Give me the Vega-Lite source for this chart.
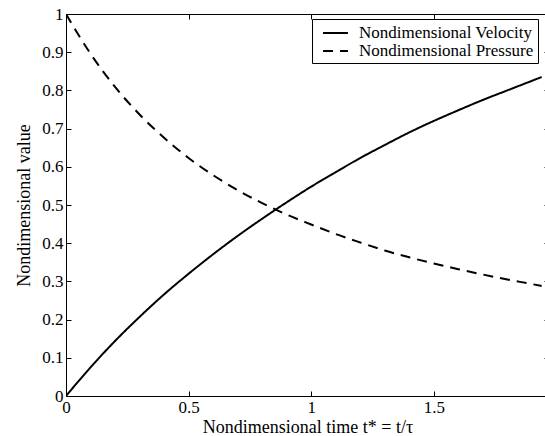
{
  "$schema": "https://vega.github.io/schema/vega-lite/v6.json",
  "width": 483,
  "height": 382,
  "autosize": {"type": "none"},
  "padding": {"left": 66, "top": 14, "right": 0, "bottom": 40},
  "background": "white",
  "config": {
    "view": {"stroke": "black", "strokeWidth": 1},
    "font": "Times New Roman",
    "style": {"guide-label": {"font": "Times New Roman"}, "guide-title": {"font": "Times New Roman"}},
    "axis": {
      "domain": false,
      "grid": false,
      "tickColor": "black",
      "tickSize": -5,
      "tickWidth": 1,
      "labelFlush": false,
      "labelOverlap": false,
      "labelFont": "Times New Roman",
      "labelFontSize": 17,
      "labelColor": "black",
      "titleFont": "Times New Roman",
      "titleFontSize": 18,
      "titleFontWeight": "normal",
      "titleColor": "black"
    },
    "legend": {
      "orient": "none",
      "legendX": 246,
      "legendY": 5,
      "strokeColor": "black",
      "fillColor": "white",
      "padding": 4,
      "labelFont": "Times New Roman",
      "labelFontSize": 17,
      "labelColor": "black",
      "labelLimit": 0,
      "symbolType": "M-0.33,0H2.44",
      "symbolStrokeWidth": 2,
      "symbolSize": 324,
      "symbolStrokeColor": "black",
      "rowPadding": 0,
      "labelOffset": 23
    }
  },
  "data": {
    "values": [
      {"t": 0, "series": "Nondimensional Velocity", "value": 0},
      {"t": 0.1, "series": "Nondimensional Velocity", "value": 0.075},
      {"t": 0.2, "series": "Nondimensional Velocity", "value": 0.144},
      {"t": 0.3, "series": "Nondimensional Velocity", "value": 0.207},
      {"t": 0.4, "series": "Nondimensional Velocity", "value": 0.266},
      {"t": 0.5, "series": "Nondimensional Velocity", "value": 0.32},
      {"t": 0.6, "series": "Nondimensional Velocity", "value": 0.371},
      {"t": 0.7, "series": "Nondimensional Velocity", "value": 0.419},
      {"t": 0.8, "series": "Nondimensional Velocity", "value": 0.464},
      {"t": 0.9, "series": "Nondimensional Velocity", "value": 0.507},
      {"t": 1.0, "series": "Nondimensional Velocity", "value": 0.548},
      {"t": 1.1, "series": "Nondimensional Velocity", "value": 0.586},
      {"t": 1.2, "series": "Nondimensional Velocity", "value": 0.623},
      {"t": 1.3, "series": "Nondimensional Velocity", "value": 0.657},
      {"t": 1.4, "series": "Nondimensional Velocity", "value": 0.69},
      {"t": 1.5, "series": "Nondimensional Velocity", "value": 0.72},
      {"t": 1.6, "series": "Nondimensional Velocity", "value": 0.748},
      {"t": 1.7, "series": "Nondimensional Velocity", "value": 0.775},
      {"t": 1.8, "series": "Nondimensional Velocity", "value": 0.8},
      {"t": 1.9, "series": "Nondimensional Velocity", "value": 0.825},
      {"t": 1.94, "series": "Nondimensional Velocity", "value": 0.835},
      {"t": 0, "series": "Nondimensional Pressure", "value": 1},
      {"t": 0.1, "series": "Nondimensional Pressure", "value": 0.896},
      {"t": 0.2, "series": "Nondimensional Pressure", "value": 0.809},
      {"t": 0.3, "series": "Nondimensional Pressure", "value": 0.737},
      {"t": 0.4, "series": "Nondimensional Pressure", "value": 0.676},
      {"t": 0.5, "series": "Nondimensional Pressure", "value": 0.623},
      {"t": 0.6, "series": "Nondimensional Pressure", "value": 0.578},
      {"t": 0.7, "series": "Nondimensional Pressure", "value": 0.539},
      {"t": 0.8, "series": "Nondimensional Pressure", "value": 0.505},
      {"t": 0.9, "series": "Nondimensional Pressure", "value": 0.475},
      {"t": 1.0, "series": "Nondimensional Pressure", "value": 0.449},
      {"t": 1.1, "series": "Nondimensional Pressure", "value": 0.424},
      {"t": 1.2, "series": "Nondimensional Pressure", "value": 0.402},
      {"t": 1.3, "series": "Nondimensional Pressure", "value": 0.381},
      {"t": 1.4, "series": "Nondimensional Pressure", "value": 0.363},
      {"t": 1.5, "series": "Nondimensional Pressure", "value": 0.347},
      {"t": 1.6, "series": "Nondimensional Pressure", "value": 0.332},
      {"t": 1.7, "series": "Nondimensional Pressure", "value": 0.318},
      {"t": 1.8, "series": "Nondimensional Pressure", "value": 0.305},
      {"t": 1.9, "series": "Nondimensional Pressure", "value": 0.293},
      {"t": 1.94, "series": "Nondimensional Pressure", "value": 0.288}
    ]
  },
  "layer": [
    {
      "mark": {"type": "line", "strokeWidth": 2, "color": "black", "interpolate": "monotone", "clip": true},
      "encoding": {
        "x": {
          "field": "t", "type": "quantitative",
          "scale": {"domain": [0, 1.97], "nice": false, "zero": false},
          "axis": {"values": [0, 0.5, 1, 1.5], "format": ".1~f", "labelPadding": 8, "title": "Nondimensional time t* = t/τ", "titlePadding": 3}
        },
        "y": {
          "field": "value", "type": "quantitative",
          "scale": {"domain": [0, 1], "nice": false},
          "axis": {"values": [0, 0.1, 0.2, 0.3, 0.4, 0.5, 0.6, 0.7, 0.8, 0.9, 1], "format": ".1~f", "labelPadding": 8, "title": "Nondimensional value", "titlePadding": 8}
        },
        "strokeDash": {
          "field": "series", "type": "nominal",
          "scale": {"domain": ["Nondimensional Velocity", "Nondimensional Pressure"], "range": [[1, 0], [10, 7]]},
          "legend": {"title": null}
        }
      }
    },
    {
      "mark": {"type": "point", "opacity": 0},
      "encoding": {
        "x": {
          "field": "t", "type": "quantitative",
          "scale": {"domain": [0, 1.97], "nice": false, "zero": false},
          "axis": {"orient": "top", "values": [0, 0.5, 1, 1.5], "labels": false, "title": null}
        },
        "y": {
          "field": "value", "type": "quantitative",
          "scale": {"domain": [0, 1], "nice": false},
          "axis": {"orient": "right", "values": [0, 0.1, 0.2, 0.3, 0.4, 0.5, 0.6, 0.7, 0.8, 0.9, 1], "labels": false, "title": null}
        }
      }
    }
  ],
  "resolve": {"axis": {"x": "independent", "y": "independent"}}
}
